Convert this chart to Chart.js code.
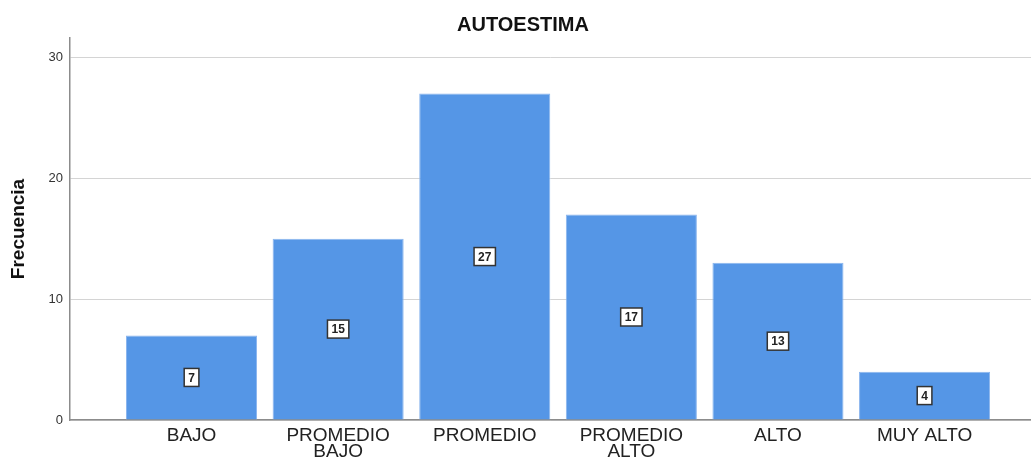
<!DOCTYPE html>
<html>
<head>
<meta charset="utf-8">
<script src="https://cdn.jsdelivr.net/npm/chart.js@4"></script>
<style>
  html, body { margin: 0; padding: 0; background: #fff; }
  canvas { display: block; }
</style>
</head>
<body>
<canvas id="autoestimaChart" width="1031" height="457"></canvas>
<script>
// Chart data
const chartTitle = 'AUTOESTIMA';
const yAxisLabel = 'Frecuencia';
const categories = ['BAJO', ['PROMEDIO', 'BAJO'], 'PROMEDIO', ['PROMEDIO', 'ALTO'], 'ALTO', 'MUY ALTO'];
const frequencies = [7, 15, 27, 17, 13, 4];
const yTickValues = [0, 10, 20, 30];

const FONT = '"Liberation Sans", Arial, sans-serif';

// draws the chart title centred above the plot
const titlePlugin = {
    id: 'spssTitle',
    afterDraw(chart) {
        const ctx = chart.ctx;
        ctx.save();
        ctx.font = 'bold 20px ' + FONT;
        ctx.fillStyle = '#111';
        ctx.textAlign = 'center';
        ctx.textBaseline = 'middle';
        ctx.fillText(chartTitle, 523, 25);
        ctx.restore();
    }
};

// boxed value labels in the middle of each bar
const valueLabels = {
    id: 'valueLabels',
    afterDatasetsDraw(chart) {
        const ctx = chart.ctx;
        const meta = chart.getDatasetMeta(0);
        ctx.save();
        ctx.font = 'bold 12px ' + FONT;
        meta.data.forEach((bar, i) => {
            const txt = String(frequencies[i]);
            const w = ctx.measureText(txt).width + 8;
            const h = 18;
            const cx = bar.x;
            const cy = (bar.y + bar.base) / 2;
            ctx.fillStyle = '#fff';
            ctx.fillRect(cx - w / 2, cy - h / 2, w, h);
            ctx.strokeStyle = '#333';
            ctx.lineWidth = 1.5;
            ctx.strokeRect(cx - w / 2, cy - h / 2, w, h);
            ctx.fillStyle = '#222';
            ctx.textAlign = 'center';
            ctx.textBaseline = 'middle';
            ctx.fillText(txt, cx, cy + 1);
        });
        ctx.restore();
    }
};

const ctx = document.getElementById('autoestimaChart');
new Chart(ctx, {
    type: 'bar',
    data: {
        datasets: [{
            label: yAxisLabel,
            data: frequencies.map((v, i) => ({ x: i, y: v })),
            backgroundColor: '#5596e6',
            borderColor: '#8ab5ee',
            borderWidth: 1,
            categoryPercentage: 1,
            barPercentage: 0.894
        }]
    },
    options: {
        responsive: false,
        animation: false,
        layout: { padding: { top: 38, left: 0, right: 0, bottom: 0 } },
        plugins: {
            legend: { display: false },
            title: { display: false },
            tooltip: { enabled: false }
        },
        scales: {
            x: {
                type: 'linear',
                offset: false,
                min: -0.829,
                max: 5.726,
                afterBuildTicks: scale => {
                    scale.ticks = categories.map((_, i) => ({ value: i }));
                },
                afterFit: scale => { scale.height = 37; },
                grid: { display: false, drawTicks: false, offset: false },
                border: { display: true, color: '#8c8c8c', width: 1.5 },
                ticks: {
                    autoSkip: false,
                    maxRotation: 0,
                    padding: 8,
                    color: '#222',
                    font: { family: FONT, size: 19, lineHeight: '16px' },
                    callback: value => categories[value]
                }
            },
            y: {
                min: 0,
                max: 31.6,
                afterBuildTicks: scale => {
                    scale.ticks = yTickValues.map(v => ({ value: v }));
                },
                afterFit: scale => { scale.width = 70; },
                grid: { color: '#d4d4d4', lineWidth: 1, drawTicks: false },
                border: { display: true, color: '#8c8c8c', width: 1.5 },
                ticks: {
                    padding: 7,
                    color: '#333',
                    font: { family: FONT, size: 13 }
                },
                title: {
                    display: true,
                    text: yAxisLabel,
                    color: '#111',
                    padding: { top: 7, bottom: 0 },
                    font: { family: '"Liberation Sans Narrow", "Liberation Sans", Arial, sans-serif', size: 19, weight: 'bold' }
                }
            }
        }
    },
    plugins: [titlePlugin, valueLabels]
});
</script>
</body>
</html>
